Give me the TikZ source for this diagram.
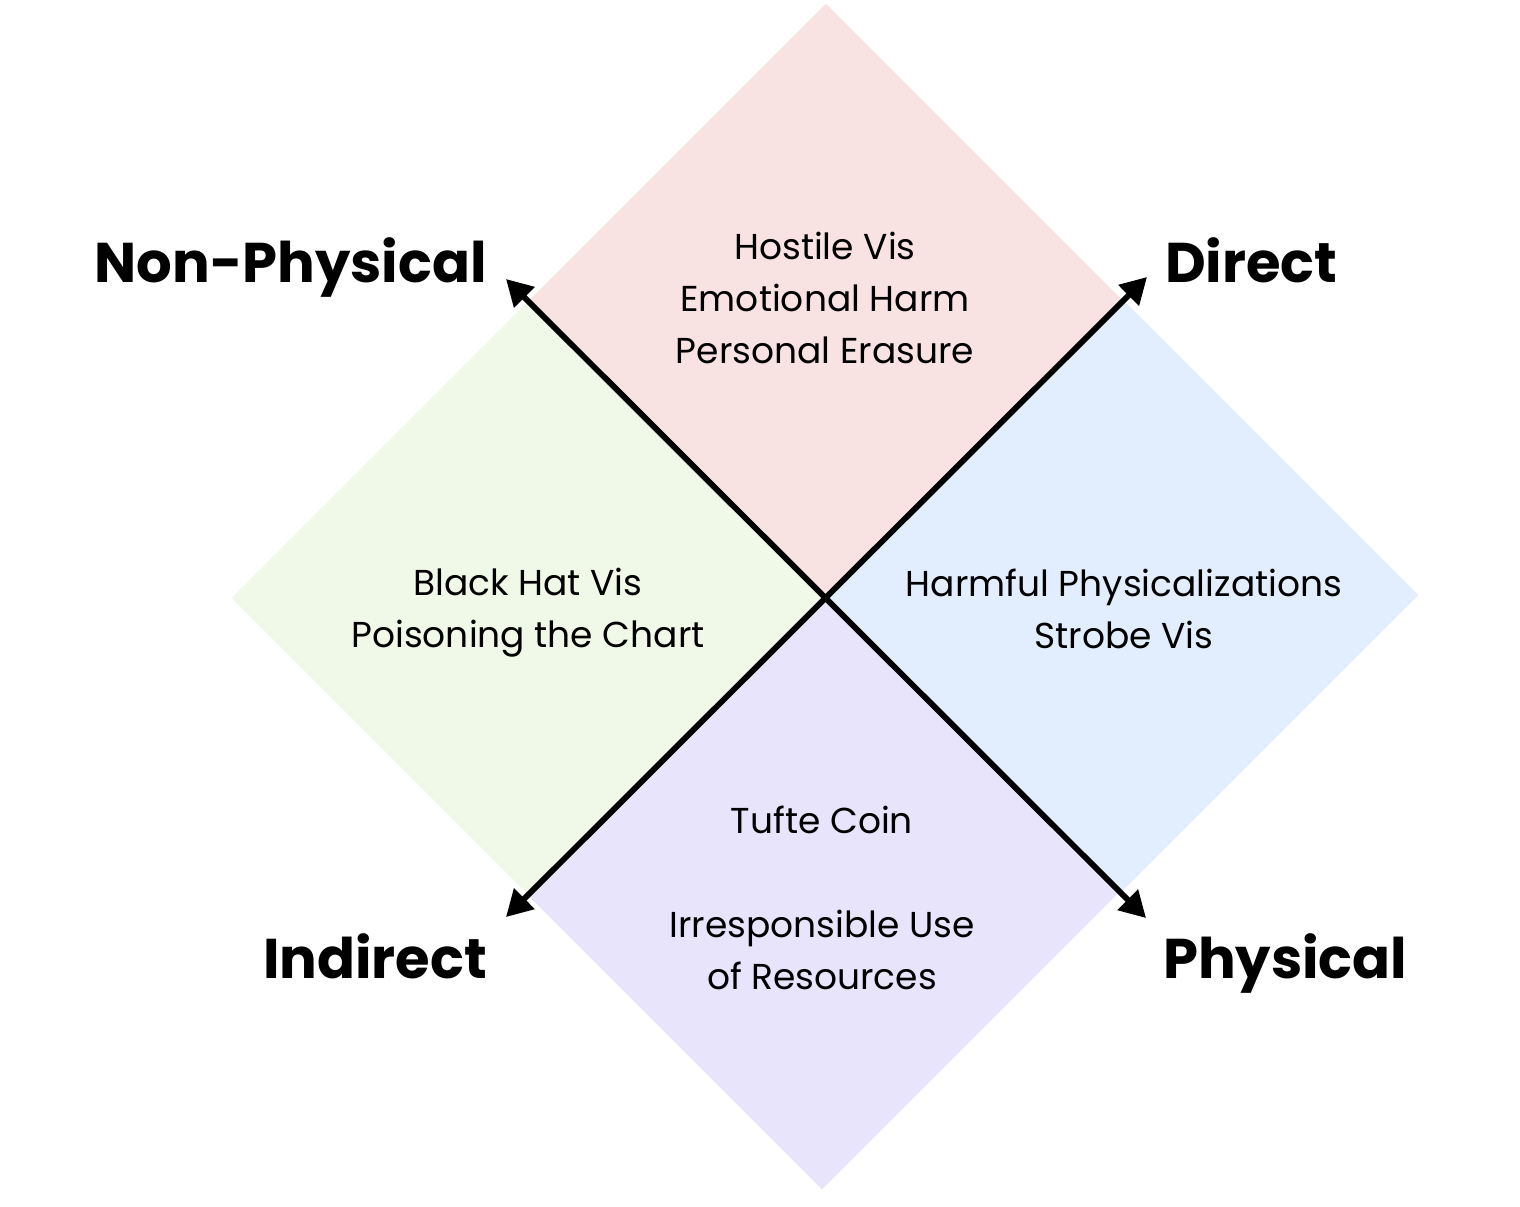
\documentclass[tikz,border=0pt]{standalone}
\usepackage{fontspec}
\setmainfont{Poppins}
\usepackage{xcolor}
\usetikzlibrary{shapes.geometric, arrows.meta, positioning}
\definecolor{harmpink}{RGB}{249,226,226}
\definecolor{harmgreen}{RGB}{240,248,232}
\definecolor{harmblue}{RGB}{226,238,254}
\definecolor{harmpurple}{RGB}{232,228,252}
\begin{document}
\begin{tikzpicture}[x=0.5pt, y=-0.5pt,
  every node/.style={font=\fontsize{18}{26}\selectfont, align=center},
  quadrant/.style={diamond, minimum size=296.5pt, inner sep=0pt},
  axislabel/.style={font=\bfseries\fontsize{28}{28}\selectfont},
  axis/.style={{Triangle[length=13pt,width=14pt]}-{Triangle[length=13pt,width=14pt]}, line width=2.9pt}]
\useasboundingbox (0,0) rectangle (1520,1206);
% quadrants
\node (nonphysdirect) [quadrant, fill=harmpink] at (826,300) {};
\node (nonphysindirect) [quadrant, fill=harmgreen] at (528,598) {};
\node (physdirect) [quadrant, fill=harmblue] at (1122,595) {};
\node (physindirect) [quadrant, fill=harmpurple] at (822,893) {};
% quadrant texts
\node (toptext) at (825,298) {Hostile Vis\\Emotional Harm\\Personal Erasure};
\node (lefttext) at (528,613) {Black Hat Vis\\Poisoning the Chart};
\node (righttext) at (1124,609) {Harmful Physicalizations\\Strobe Vis};
\node (bottomtext) at (822,898) {Tufte Coin\\[26pt]Irresponsible Use\\of Resources};
% axes
\coordinate (nw) at (506,279);
\coordinate (se) at (1146,918);
\coordinate (sw) at (506,917);
\coordinate (ne) at (1147,277);
\draw[axis] (nw) -- (se);
\draw[axis] (sw) -- (ne);
% axis labels
\node (nonphys) [axislabel, anchor=base east] at (494,282) {Non-Physical};
\node (direct) [axislabel, anchor=base west] at (1158,282) {Direct};
\node (indirect) [axislabel, anchor=base east] at (494,978) {Indirect};
\node (phys) [axislabel, anchor=base west] at (1156,978) {Physical};
\end{tikzpicture}
\end{document}
